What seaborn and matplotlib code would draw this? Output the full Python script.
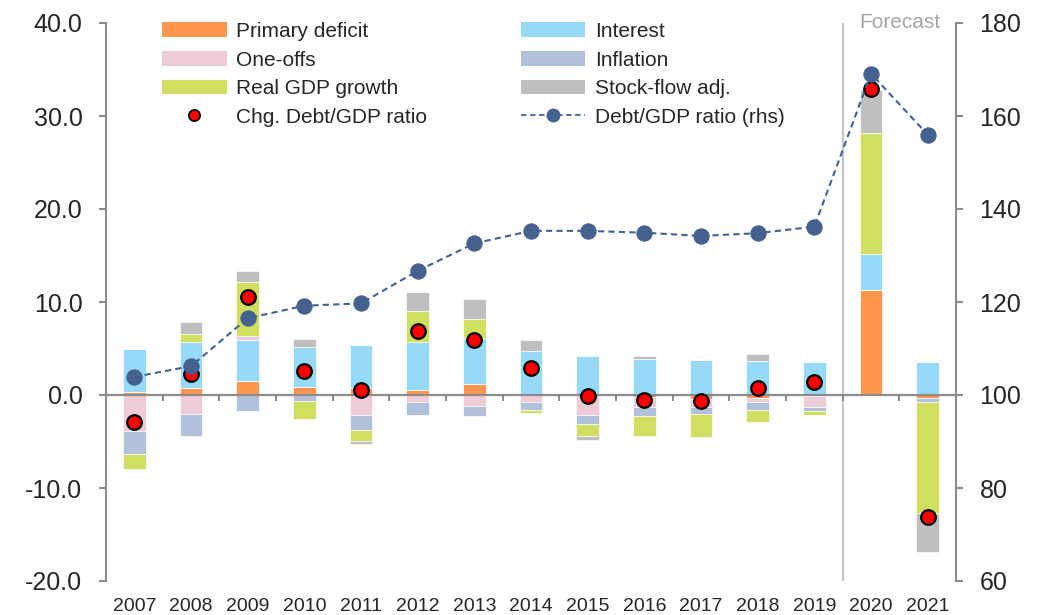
import numpy as np
import pandas as pd
import matplotlib
matplotlib.use("Agg")
import matplotlib.pyplot as plt
import seaborn as sns
from matplotlib.lines import Line2D
from matplotlib.patches import Patch
from matplotlib.ticker import FormatStrFormatter

# ---------------- data ----------------
years = ["2007", "2008", "2009", "2010", "2011", "2012", "2013", "2014",
         "2015", "2016", "2017", "2018", "2019", "2020", "2021"]
primary_deficit = [0.3, 0.8, 1.5, 0.9, 0.7, 0.5, 1.2, 0.1, 0.0, -0.2, -0.4, -0.3, -0.15, 11.3, -0.3]
interest = [4.7, 4.9, 4.4, 4.3, 4.7, 5.2, 4.9, 4.6, 4.15, 3.9, 3.8, 3.7, 3.5, 3.9, 3.6]
one_offs = [-3.9, -2.0, 0.45, 0.0, -2.2, -0.7, -1.15, -0.7, -2.2, -1.05, -0.9, -0.4, -1.15, 0.0, 0.0]
inflation = [-2.4, -2.4, -1.7, -0.6, -1.6, -1.5, -1.15, -0.9, -0.9, -1.05, -0.7, -0.9, -0.4, 0.0, -0.5]
real_gdp_growth = [-1.7, 0.9, 5.75, -2.0, -1.15, 3.3, 2.1, -0.3, -1.3, -2.1, -2.5, -1.3, -0.4, 13.0, -11.9]
stock_flow_adj = [0.0, 1.2, 1.25, 0.8, -0.35, 2.1, 2.1, 1.2, -0.4, 0.25, 0.0, 0.7, 0.1, 4.6, -4.2]
chg_debt_ratio = [-2.9, 2.3, 10.5, 2.6, 0.5, 6.9, 5.9, 2.9, -0.1, -0.5, -0.65, 0.8, 1.4, 32.9, -13.1]
debt_ratio = [103.9, 106.2, 116.5, 119.2, 119.7, 126.7, 132.6, 135.3, 135.3, 134.9, 134.2, 134.8, 136.2, 169.1, 156.0]
forecast_start = "2020"

left_ticks = [-20, -10, 0, 10, 20, 30, 40]
right_ticks = [60, 80, 100, 120, 140, 160, 180]

components = [
    ("Primary deficit", primary_deficit, "#FF9650"),
    ("Interest", interest, "#97DAF8"),
    ("One-offs", one_offs, "#EDCCD6"),
    ("Inflation", inflation, "#B1C1D9"),
    ("Real GDP growth", real_gdp_growth, "#D0DE62"),
    ("Stock-flow adj.", stock_flow_adj, "#BFBFBF"),
]

# ---------------- style ----------------
sns.set_style("white")
plt.rcParams["font.family"] = ["Liberation Sans", "DejaVu Sans"]

GRAY = "#8C8C8C"
LINE_C = "#44618F"

fig = plt.figure(figsize=(10.45, 6.15), dpi=100)
ax = fig.add_axes([106 / 1045, 1 - 581 / 615, 850 / 1045, 558 / 615])
ax2 = ax.twinx()

n = len(years)
pos = np.arange(n)
pos_base = np.zeros(n)
neg_base = np.zeros(n)
patch_handles = {}
for label, vals, color in components:
    v = np.asarray(vals, dtype=float)
    bottom = np.where(v >= 0, pos_base, neg_base)
    df = pd.DataFrame({"year": years, "val": v})
    sns.barplot(data=df, x="year", y="val", order=years, bottom=bottom,
                color=color, saturation=1, width=0.4, errorbar=None,
                edgecolor="white", linewidth=0.5, ax=ax, zorder=2)
    pos_base += np.where(v > 0, v, 0)
    neg_base += np.where(v < 0, v, 0)
    patch_handles[label] = Patch(facecolor=color, edgecolor="none", label=label)

# zero line and category boundary ticks
ax.axhline(0, color=GRAY, lw=1.6, zorder=3)
ax.vlines(pos[:-1] + 0.5, -0.65, 0, color=GRAY, lw=1.5, zorder=3)

# forecast separator
fc = years.index(forecast_start) - 0.5
ax.axvline(fc, color="#C4C4C4", lw=1.5, zorder=1)
ax.text(fc + 1.0, 40, "Forecast", ha="center", va="center",
        color="#A6A6A6", fontsize=15, zorder=4)

# change in debt ratio dots
sns.scatterplot(x=pos, y=chg_debt_ratio, ax=ax, color="#FF0000",
                edgecolor="black", linewidth=1.6, s=110, zorder=5, legend=False)

# debt ratio line (rhs)
sns.lineplot(x=pos, y=debt_ratio, ax=ax2, color=LINE_C, linestyle=(0, (3, 2)),
             linewidth=1.5, marker="o", markersize=11, markeredgecolor=LINE_C,
             legend=False)

# axes formatting
ax.set_xlim(-0.5, n - 0.5)
ax.set_ylim(-20, 40)
ax.set_yticks(left_ticks)
ax.yaxis.set_major_formatter(FormatStrFormatter("%.1f"))
ax2.set_ylim(60, 180)
ax2.set_yticks(right_ticks)
ax.set_xlabel("")
ax.set_ylabel("")
ax2.set_xlabel("")
ax2.set_ylabel("")

for a in (ax, ax2):
    for s in ("top", "bottom"):
        a.spines[s].set_visible(False)
ax.spines["right"].set_visible(False)
ax2.spines["left"].set_visible(False)
ax.spines["left"].set_color(GRAY)
ax.spines["left"].set_linewidth(1.5)
ax2.spines["right"].set_color(GRAY)
ax2.spines["right"].set_linewidth(1.5)

ax.tick_params(axis="y", left=True, direction="out", length=5, width=1.5,
               color=GRAY, labelsize=18, pad=12)
ax2.tick_params(axis="y", right=True, direction="out", length=5, width=1.5,
                color=GRAY, labelsize=18, pad=12)
ax.tick_params(axis="x", bottom=True, length=0, labelsize=14, pad=12)

# legend
dot_handle = Line2D([], [], marker="o", color="none", markerfacecolor="#FF0000",
                    markeredgecolor="black", markersize=8, markeredgewidth=1.3)
line_handle = Line2D([], [], color=LINE_C, linestyle=(0, (3, 2)), linewidth=1.3,
                     marker="o", markersize=9, markeredgecolor=LINE_C)
handles = [patch_handles["Primary deficit"], patch_handles["One-offs"],
           patch_handles["Real GDP growth"], dot_handle,
           patch_handles["Interest"], patch_handles["Inflation"],
           patch_handles["Stock-flow adj."], line_handle]
labels = ["Primary deficit", "One-offs", "Real GDP growth", "Chg. Debt/GDP ratio",
          "Interest", "Inflation", "Stock-flow adj.", "Debt/GDP ratio (rhs)"]
leg = ax2.legend(handles, labels, ncol=2, loc="upper left",
                 bbox_to_anchor=(162 / 1045, 1 - 22 / 615),
                 bbox_transform=fig.transFigure, frameon=False, fontsize=15,
                 handlelength=3.1, handletextpad=0.45, columnspacing=4.5,
                 labelspacing=0.46, borderpad=0, borderaxespad=0)

fig.savefig("out.png", dpi=100)
